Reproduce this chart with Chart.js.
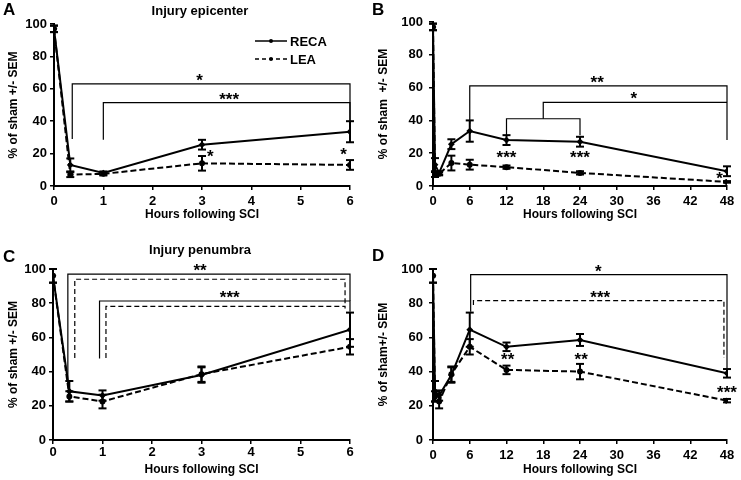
<!DOCTYPE html>
<html>
<head>
<meta charset="utf-8">
<script src="https://cdn.jsdelivr.net/npm/chart.js@4"></script>
<style>
  body { margin: 0; background: #fff; font-family: "Liberation Sans", Arial, sans-serif; }
  #wrap { position: relative; width: 741px; height: 480px; }
  canvas { position: absolute; }
  .lbl { position: absolute; font-weight: bold; color: #000; white-space: nowrap; line-height: 1; }
  .letter { font-size: 17px; }
  .ttl { font-size: 13px; transform: translate(-50%, -50%); }
</style>
</head>
<body>
<div id="wrap">
  <canvas id="cA" width="370" height="240" style="left:0;top:0"></canvas>
  <canvas id="cB" width="371" height="240" style="left:370px;top:0"></canvas>
  <canvas id="cC" width="370" height="240" style="left:0;top:240px"></canvas>
  <canvas id="cD" width="371" height="240" style="left:370px;top:240px"></canvas>
  <div class="lbl letter" style="left:3px;top:1px">A</div>
  <div class="lbl letter" style="left:372px;top:1px">B</div>
  <div class="lbl letter" style="left:3px;top:248px">C</div>
  <div class="lbl letter" style="left:372px;top:247px">D</div>
  <div class="lbl ttl" style="left:200px;top:10px">Injury epicenter</div>
  <div class="lbl ttl" style="left:200px;top:249px">Injury penumbra</div>
</div>
<script>
/* ── Données ── */
const hours = [0, 0.33, 1, 3, 6, 12, 24, 48];

const epiReca    = [97, 13, 8, 25.5, 33.5, 28, 27, 9];
const epiRecaSem = [2, 4, 1, 3, 6.5, 3, 3, 3];
const epiLea     = [97, 7, 7.5, 14, 13, 11.5, 8, 2.5];
const epiLeaSem  = [2, 1.5, 1, 4.5, 3, 1, 1, 0.5];

const penReca    = [96, 28.5, 26, 38, 64.5, 54.5, 58.5, 39];
const penRecaSem = [4, 6, 3, 4.5, 10, 2.5, 3.5, 2.5];
const penLea     = [96, 25.5, 22.5, 38.5, 54.5, 41, 40, 23];
const penLeaSem  = [4, 3, 4, 4.5, 4.5, 2.5, 4.5, 1];

const shortHourTicks = [0, 1, 2, 3, 4, 5, 6];
const longHourTicks  = [0, 6, 12, 18, 24, 30, 36, 42, 48];
const pctTicks       = [0, 20, 40, 60, 80, 100];

/* brackets : x1 -> x2 at height y, legs down to y1 (left) and y2 (right) */
const bracketsA = [
  { x1: 0.37, x2: 6, y: 63, y1: 29, y2: 40, label: "*", lx: 2.95 },
  { x1: 1, x2: 6, y: 51.5, y1: 28.5, y2: 40, label: "***", lx: 3.55 },
];
const starsA = [ { x: 3.17, y: 20, t: "*" }, { x: 5.87, y: 21, t: "*" } ];

const bracketsB = [
  { x1: 6, x2: 48, y: 61, y1: 38, y2: 28, label: "**", lx: 26.8 },
  { x1: 18, x2: 48, y: 51, y1: 41, y2: 51, label: "*", lx: 32.8 },
  { x1: 12, x2: 24, y: 41, y1: 31, y2: 31, label: "", lx: 0 },
];
const starsB = [ { x: 12, y: 19, t: "***" }, { x: 24, y: 19, t: "***" }, { x: 46.8, y: 6, t: "*" } ];

const bracketsC = [
  { x1: 0.3, x2: 6, y: 97, y1: 35, y2: 81.3, label: "**", lx: 2.97 },
  { x1: 0.94, x2: 6, y: 81.3, y1: 47.7, y2: 75, label: "***", lx: 3.57 },
];
const dashedC = [
  { x1: 0.44, x2: 5.9, y: 94, y1: 48, y2: 78.2 },
  { x1: 1.07, x2: 5.9, y: 78.2, y1: 48, y2: 76 },
];
const starsC = [];

const bracketsD = [
  { x1: 6.15, x2: 48, y: 96.7, y1: 75, y2: 42, label: "*", lx: 27 },
];
const dashedD = [
  { x1: 6.6, x2: 47.5, y: 81.5, y1: 79, y2: 48, label: "***", lx: 27.3 },
];
const starsD = [ { x: 12.2, y: 48.5, t: "**" }, { x: 24.2, y: 48.5, t: "**" }, { x: 48, y: 29, t: "***" } ];

/* ── Dessin ── */
const FONT = "'Liberation Sans', Arial, sans-serif";

function marksPlugin(brackets, dashed, stars, legend) {
  return {
    id: "marks",
    afterDatasetsDraw(chart) {
      const { ctx, scales: { x, y } } = chart;
      ctx.save();
      ctx.strokeStyle = "#000";
      ctx.fillStyle = "#000";
      const seg = (a, b, c, d) => { ctx.beginPath(); ctx.moveTo(a, b); ctx.lineTo(c, d); ctx.stroke(); };

      // error bars
      ctx.lineWidth = 2;
      ctx.setLineDash([]);
      chart.data.datasets.forEach((ds) => {
        ds.data.forEach((p, i) => {
          const px = x.getPixelForValue(p.x);
          const hi = y.getPixelForValue(p.y + ds.sem[i]);
          const lo = y.getPixelForValue(p.y - ds.sem[i]);
          seg(px, hi, px, lo);
          seg(px - 4, hi, px + 4, hi);
          seg(px - 4, lo, px + 4, lo);
        });
      });

      // asterisks : py = visual centre of the glyph
      const drawStar = (t, px, py) => {
        ctx.font = "bold 17px " + FONT;
        ctx.textAlign = "center";
        ctx.textBaseline = "alphabetic";
        ctx.fillText(t, px, py + 8);
      };

      const drawBracket = (b) => {
        const xa = x.getPixelForValue(b.x1), xb = x.getPixelForValue(b.x2);
        const yt = y.getPixelForValue(b.y);
        ctx.beginPath();
        ctx.moveTo(xa, y.getPixelForValue(b.y1));
        ctx.lineTo(xa, yt);
        ctx.lineTo(xb, yt);
        ctx.lineTo(xb, y.getPixelForValue(b.y2));
        ctx.stroke();
        if (b.label) drawStar(b.label, x.getPixelForValue(b.lx), yt - 6);
      };

      ctx.lineWidth = 1.2;
      brackets.forEach(drawBracket);
      ctx.setLineDash([5, 3]);
      dashed.forEach(drawBracket);
      ctx.setLineDash([]);

      stars.forEach((s) => drawStar(s.t, x.getPixelForValue(s.x), y.getPixelForValue(s.y)));

      if (legend) {
        ctx.font = "bold 13px " + FONT;
        ctx.textAlign = "left";
        ctx.textBaseline = "middle";
        [["RECA", [], 41], ["LEA", [4, 3], 59]].forEach(([name, dash, ly]) => {
          ctx.lineWidth = 1.5;
          ctx.setLineDash(dash);
          seg(255, ly, 287, ly);
          ctx.setLineDash([]);
          ctx.beginPath(); ctx.arc(271, ly, 2, 0, Math.PI * 2); ctx.fill();
          ctx.fillText(name, 290, ly + 1);
        });
      }
      ctx.restore();
    },
  };
}

function makePanel(id, n, xTicks, yTitle, pad, gapY, gapX, reca, recaSem, lea, leaSem, brackets, dashed, stars, legend) {
  const pts = (vals) => hours.slice(0, n).map((h, i) => ({ x: h, y: vals[i] }));
  const tickFont = { family: FONT, size: 13, weight: "bold" };
  const titleFont = { family: FONT, size: 12, weight: "bold" };
  const gridOpts = { display: true, drawOnChartArea: false, drawTicks: true, tickLength: 4, color: "#000", lineWidth: 1.5 };
  new Chart(document.getElementById(id), {
    type: "line",
    data: {
      datasets: [
        {
          label: "RECA",
          data: pts(reca),
          sem: recaSem.slice(0, n),
          borderColor: "#000",
          backgroundColor: "#000",
          borderWidth: 2,
          pointRadius: 2,
          pointStyle: "rectRot",
          tension: 0,
        },
        {
          label: "LEA",
          data: pts(lea),
          sem: leaSem.slice(0, n),
          borderColor: "#000",
          backgroundColor: "#000",
          borderWidth: 2,
          borderDash: [6, 3],
          pointRadius: 2,
          tension: 0,
        },
      ],
    },
    options: {
      responsive: false,
      animation: false,
      layout: { padding: pad },
      plugins: { legend: { display: false }, tooltip: { enabled: false } },
      scales: {
        x: {
          type: "linear",
          min: 0,
          max: xTicks[xTicks.length - 1],
          afterBuildTicks: (s) => { s.ticks = xTicks.map((v) => ({ value: v })); },
          afterFit: (s) => { s.height = pad.xh; },
          ticks: { font: tickFont, color: "#000", padding: gapX, maxRotation: 0, autoSkip: false },
          grid: gridOpts,
          border: { display: true, color: "#000", width: 2 },
          title: { display: true, text: "Hours following SCI", font: titleFont, color: "#000", padding: { top: 0, bottom: 0 } },
        },
        y: {
          min: 0,
          max: 100,
          afterBuildTicks: (s) => { s.ticks = pctTicks.map((v) => ({ value: v })); },
          afterFit: (s) => { s.width = pad.yw; },
          ticks: { font: tickFont, color: "#000", padding: gapY },
          grid: gridOpts,
          border: { display: true, color: "#000", width: 2 },
          title: { display: true, text: yTitle, font: titleFont, color: "#000", padding: { top: 6, bottom: 0 } },
        },
      },
    },
    plugins: [marksPlugin(brackets, dashed, stars, legend)],
  });
}

makePanel("cA", 5, shortHourTicks, "% of sham +/- SEM",
  { left: 0, right: 20, top: 24, bottom: 18, xh: 36, yw: 54 }, 3, 4,
  epiReca, epiRecaSem, epiLea, epiLeaSem, bracketsA, [], starsA, true);

makePanel("cB", 8, longHourTicks, "% of sham  +/- SEM",
  { left: 0, right: 14, top: 22, bottom: 18, xh: 36, yw: 63 }, 6, 4,
  epiReca, epiRecaSem, epiLea, epiLeaSem, bracketsB, [], starsB, false);

makePanel("cC", 5, shortHourTicks, "% of sham +/- SEM",
  { left: 0, right: 20, top: 29, bottom: 3, xh: 37, yw: 53 }, 3, 1,
  penReca, penRecaSem, penLea, penLeaSem, bracketsC, dashedC, starsC, false);

makePanel("cD", 8, longHourTicks, "% of sham+/- SEM",
  { left: 0, right: 14, top: 29, bottom: 3, xh: 37, yw: 63 }, 6, 4,
  penReca, penRecaSem, penLea, penLeaSem, bracketsD, dashedD, starsD, false);
</script>
</body>
</html>
